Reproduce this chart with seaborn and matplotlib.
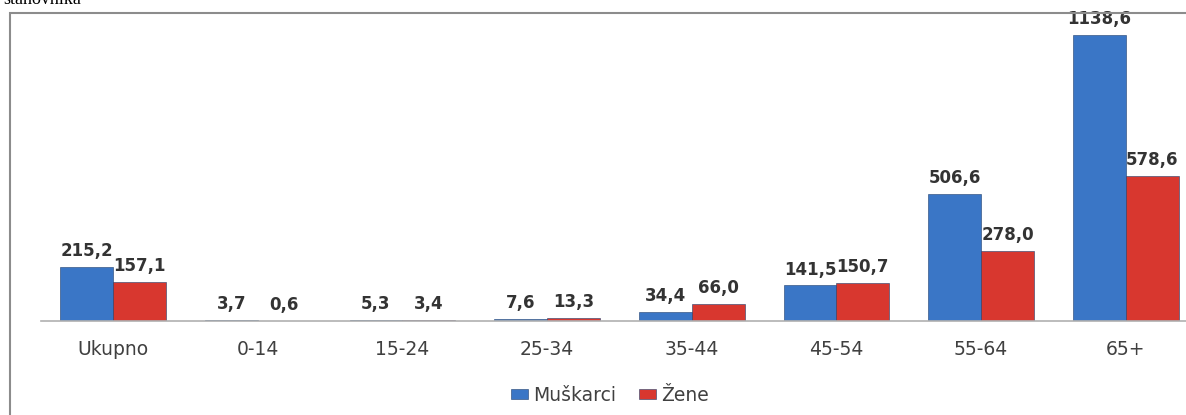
import pandas as pd
import seaborn as sns
import matplotlib.pyplot as plt
from matplotlib.patches import Rectangle

# Data
groups = ["Ukupno", "0-14", "15-24", "25-34", "35-44", "45-54", "55-64", "65+"]
muskarci = [215.2, 3.7, 5.3, 7.6, 34.4, 141.5, 506.6, 1138.6]
zene = [157.1, 0.6, 3.4, 13.3, 66.0, 150.7, 278.0, 578.6]
series = ["Muškarci", "Žene"]
colors = ["#3A76C6", "#D8372F"]

df = pd.DataFrame({
    "grupa": groups * 2,
    "vrijednost": muskarci + zene,
    "spol": [series[0]] * len(groups) + [series[1]] * len(groups),
})

sns.set_style("white")
plt.rcParams["font.family"] = ["DejaVu Sans"]

fig = plt.figure(figsize=(11.86, 4.15), dpi=100)

# outer frame of the embedded chart
fig.patches.append(Rectangle((10 / 1186, -0.05), 1.2, 1 - 13 / 415 + 0.05,
                             transform=fig.transFigure, fill=False,
                             edgecolor="#8c8c8c", linewidth=1.5))
# caption above the frame (cut by the image edge in the original)
fig.text(0.003, 1.0, "stanovnika", family="Liberation Serif", fontsize=13,
         va="center", ha="left", color="black")

ax = fig.add_axes([40.6 / 1186, 94 / 415, 1157.6 / 1186, 301.4 / 415])
sns.barplot(data=df, x="grupa", y="vrijednost", hue="spol", palette=colors,
            width=0.73, ax=ax, saturation=1, edgecolor="#1f3f6e", linewidth=0.4)

for cont in ax.containers:
    ax.bar_label(cont, labels=[f"{v:.1f}".replace(".", ",") for v in cont.datavalues],
                 padding=5, fontsize=12, fontweight="bold", color="#333333")

ax.set_ylim(0, 1200)
ax.set_xlim(-0.5, 7.5)
ax.set_xlabel("")
ax.set_ylabel("")
ax.set_yticks([])
for s in ["left", "right", "top"]:
    ax.spines[s].set_visible(False)
ax.spines["bottom"].set_color("#b0b0b0")
ax.spines["bottom"].set_linewidth(1.2)
ax.tick_params(axis="x", length=0, pad=14, labelsize=13.5, labelcolor="#404040")

handles, labels = ax.get_legend_handles_labels()
ax.legend_.remove()
fig.legend(handles, labels, loc="center", bbox_to_anchor=(610 / 1186, 20 / 415),
           ncol=2, frameon=False, fontsize=13.5, handlelength=0.9, handleheight=0.5,
           handletextpad=0.3, columnspacing=1.2, labelcolor="#404040")

fig.savefig("out.png", dpi=100)
